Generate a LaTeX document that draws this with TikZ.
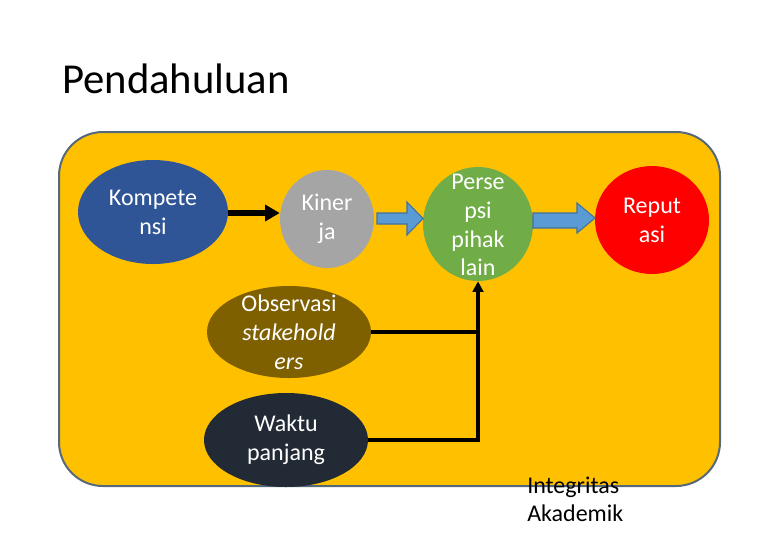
\documentclass[tikz,border=0pt]{standalone}
\usepackage{fontspec}
\setmainfont{Carlito}
\usetikzlibrary{arrows.meta,shapes.geometric,calc}
\definecolor{bgy}{HTML}{FFC000}
\definecolor{bgb}{HTML}{56697A}
\definecolor{kblue}{HTML}{2F5597}
\definecolor{kgray}{HTML}{A5A5A5}
\definecolor{kgreen}{HTML}{70AD47}
\definecolor{kred}{HTML}{FF0000}
\definecolor{kbrown}{HTML}{7F6000}
\definecolor{kdark}{HTML}{222A35}
\definecolor{abl}{HTML}{5B9BD5}
\definecolor{abd}{HTML}{41719C}
\tikzset{
  ell/.style={ellipse,draw=none,inner sep=0pt},
  txt/.style={text=white,font=\fontsize{18pt}{21.6pt}\selectfont,align=center,inner sep=0pt},
  blkarrow/.style={fill=abl,draw=abd,line width=0.8pt,line join=miter},
  conn/.style={line width=2.4pt,draw=black},
}
\begin{document}
\begin{tikzpicture}[x=0.75pt,y=-0.75pt]
\useasboundingbox (0,0) rectangle (780,540);
\node[anchor=base west,inner sep=0pt,font=\fontsize{32pt}{38pt}\selectfont] (title) at (62,93) {Pendahuluan};
\draw[fill=bgy,draw=bgb,line width=1.5pt,rounded corners=33pt] (59,132) rectangle (720,486);

\node[ell,fill=kblue,minimum width=112.5pt,minimum height=78pt,label={[txt]center:{Kompete\\nsi}}] (komp) at (153,212) {};
\node[ell,fill=kgray,minimum width=70.5pt,minimum height=73.5pt,label={[txt]center:{Kiner\\ja}}] (kin) at (327,219) {};
\node[ell,fill=kgreen,minimum width=82.5pt,minimum height=85.5pt] (per) at (478,224) {};
\node[txt] (pertxt) at (478,225) {Perse\\psi\\pihak\\lain};
\node[ell,fill=kred,minimum width=85.5pt,minimum height=81pt,label={[txt]center:{Reput\\asi}}] (rep) at (652,220) {};
\node[ell,fill=kbrown,minimum width=123pt,minimum height=69pt,label={[txt]center:{Observasi\\\textit{stakehold}\\\textit{ers}}}] (obs) at (289,332) {};
\node[ell,fill=kdark,minimum width=123pt,minimum height=70.5pt,label={[txt]center:{Waktu\\panjang}}] (wak) at (286,440) {};

% block arrows
\draw[blkarrow] (377,213) -- (407,213) -- (407,202) -- (423,218.5) -- (407,235) -- (407,224) -- (377,224) -- cycle;
\draw[blkarrow] (533,213) -- (577,213) -- (577,203) -- (595,218) -- (577,233) -- (577,228) -- (533,228) -- cycle;

% black connectors
\coordinate (ka) at ($(komp.east)+(0,1)$);
\draw[line width=4pt,-{Triangle[length=11pt,width=12pt]}] (ka) -- (ka -| kin.west);
\coordinate (jx) at (478,440);
\draw[conn] (obs.east) -- (obs.east -| jx);
\draw[conn,-{Triangle[length=8pt,width=8pt]}] (wak.east) -- (jx) -- (per.south);

\node[anchor=base west,inner sep=0pt,align=left,font=\fontsize{18pt}{21pt}\selectfont] (integ) at (527,521) {Integritas\\Akademik};
\end{tikzpicture}
\end{document}
